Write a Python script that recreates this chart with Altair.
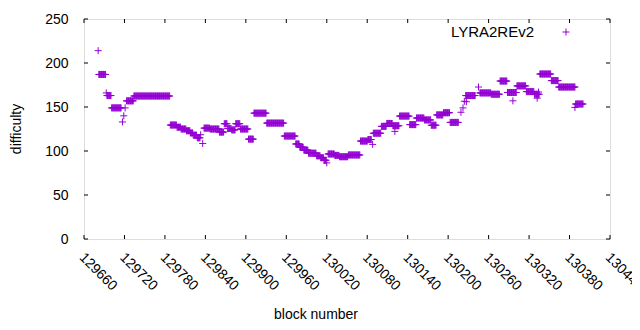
import altair as alt
import pandas as pd

# ---- data ----
series_name = "LYRA2REv2"

run_start = [129681, 129682, 129693, 129694, 129701, 129717, 129719, 129721, 129723, 129734,
             129788, 129798, 129804, 129812, 129818, 129822, 129828, 129833, 129836, 129838,
             129847, 129861, 129868, 129873, 129879, 129885, 129892, 129904, 129912, 129931,
             129957, 129974, 129980, 129986, 129993, 130005, 130011, 130016, 130020, 130022,
             130032, 130039, 130052, 130070, 130081, 130088, 130089, 130101, 130109, 130118,
             130121, 130128, 130143, 130153, 130165, 130175, 130183, 130193, 130203, 130219,
             130222, 130224, 130226, 130227, 130245, 130247, 130264, 130277, 130288, 130296,
             130302, 130316, 130328, 130332, 130334, 130336, 130353, 130364, 130388, 130389]
run_end = [129681, 129692, 129693, 129700, 129715, 129717, 129719, 129721, 129733, 129787,
           129797, 129803, 129811, 129817, 129821, 129827, 129832, 129833, 129836, 129846,
           129860, 129867, 129872, 129878, 129884, 129891, 129903, 129911, 129930, 129956,
           129973, 129979, 129985, 129992, 130004, 130010, 130015, 130019, 130020, 130031,
           130038, 130051, 130069, 130080, 130086, 130088, 130100, 130108, 130117, 130127,
           130121, 130142, 130152, 130164, 130174, 130182, 130192, 130202, 130215, 130219,
           130222, 130224, 130240, 130227, 130245, 130263, 130276, 130287, 130301, 130296,
           130315, 130327, 130335, 130332, 130334, 130352, 130363, 130388, 130388, 130400]
run_value = [214, 187, 166, 163, 149, 133, 140, 149, 157, 162.5,
             129.5, 127, 125, 123, 120.5, 118, 115, 118.5, 108.5, 126,
             125, 121.5, 131, 125.5, 124, 131, 125, 113.5, 143, 131.7,
             117, 108, 104.3, 101, 97.5, 94.5, 92.4, 89.5, 86.5, 96.6,
             95, 93.5, 95.5, 111.3, 113, 107.5, 120.2, 128, 131.3, 128.7,
             122.3, 139.7, 130, 137.5, 135.3, 129.3, 141, 143.5, 132.5, 144,
             149, 156.5, 163, 156, 172.7, 166, 164.5, 179.5, 166.5, 157,
             174, 167.5, 164.5, 160, 167, 187.5, 180, 172.7, 149.5, 153.4]

x_ticks = [129660, 129720, 129780, 129840, 129900, 129960, 130020, 130080,
           130140, 130200, 130260, 130320, 130380, 130440]
y_ticks = [0, 50, 100, 150, 200, 250]
x_title = "block number"
y_title = "difficulty"

# ---- build table ----
blocks, values = [], []
for s, e, v in zip(run_start, run_end, run_value):
    for b in range(s, e + 1):
        blocks.append(b)
        values.append(v)
df = pd.DataFrame({"block": blocks, "difficulty": values, "series": series_name})
xt = pd.DataFrame({"t": x_ticks})
yt = pd.DataFrame({"v": y_ticks})
leg = pd.DataFrame({"series": [series_name]})
titles = pd.DataFrame({"xt": [x_title], "yt": [y_title]})

W, H = 526, 220
COLOR = "#9400D3"
FONT = "Liberation Sans"
PLUS = "M-1,0H1M0,-1V1"

xscale = alt.Scale(domain=[x_ticks[0], x_ticks[-1]], nice=False, zero=False)
yscale = alt.Scale(domain=[y_ticks[0], y_ticks[-1]], nice=False)

xaxis = alt.Axis(values=x_ticks, format="d", labelAngle=45, labelAlign="left",
                 labelBaseline="top", labelPadding=11, labelOffset=2, ticks=False,
                 domain=False, grid=False, labelFlush=False, labelOverlap=False,
                 labelFontSize=14, labelFont=FONT, labelColor="#000", title=None)
yaxis = alt.Axis(values=y_ticks, ticks=False, domain=False, grid=False,
                 labelPadding=16, labelFontSize=14, labelFont=FONT, labelColor="#000",
                 title=None)

points = alt.Chart(df).mark_point(shape=PLUS, filled=False, size=49, strokeWidth=1,
                                  opacity=1, color=COLOR).encode(
    x=alt.X("block:Q", scale=xscale, axis=xaxis),
    y=alt.Y("difficulty:Q", scale=yscale, axis=yaxis),
)

tick_bottom = alt.Chart(xt).mark_rule(color="#000", strokeWidth=1).encode(
    x=alt.X("t:Q", scale=xscale), y=alt.value(H), y2=alt.value(H - 4))
tick_top = alt.Chart(xt).mark_rule(color="#000", strokeWidth=1).encode(
    x=alt.X("t:Q", scale=xscale), y=alt.value(0), y2=alt.value(4))
tick_left = alt.Chart(yt).mark_rule(color="#000", strokeWidth=1).encode(
    y=alt.Y("v:Q", scale=yscale), x=alt.value(0), x2=alt.value(4))
tick_right = alt.Chart(yt).mark_rule(color="#000", strokeWidth=1).encode(
    y=alt.Y("v:Q", scale=yscale), x=alt.value(W - 4), x2=alt.value(W))

xtitle = alt.Chart(titles).mark_text(align="center", baseline="alphabetic", fontSize=14,
                                     font=FONT, color="#000").encode(
    text="xt:N", x=alt.value(232), y=alt.value(300))
ytitle = alt.Chart(titles).mark_text(align="center", baseline="middle", fontSize=14,
                                     font=FONT, color="#000", angle=270).encode(
    text="yt:N", x=alt.value(-67), y=alt.value(110))

leg_text = alt.Chart(leg).mark_text(align="right", baseline="middle", fontSize=15,
                                    font=FONT, color="#000").encode(
    text="series:N", x=alt.value(450), y=alt.value(12.5))
leg_sym = alt.Chart(leg).mark_point(shape=PLUS, filled=False, size=49, strokeWidth=1,
                                    opacity=1, color=COLOR).encode(
    x=alt.value(482), y=alt.value(13))

chart = alt.layer(points, tick_bottom, tick_top, tick_left, tick_right,
                  xtitle, ytitle, leg_text, leg_sym).properties(
    width=W, height=H,
    autosize=alt.AutoSizeParams(type="none"),
    padding={"left": 76, "top": 11, "right": 22, "bottom": 83},
).configure_view(stroke="#000", strokeWidth=1).configure(background="white")

chart.save("out.html", embed_options={"renderer": "svg", "actions": False})
